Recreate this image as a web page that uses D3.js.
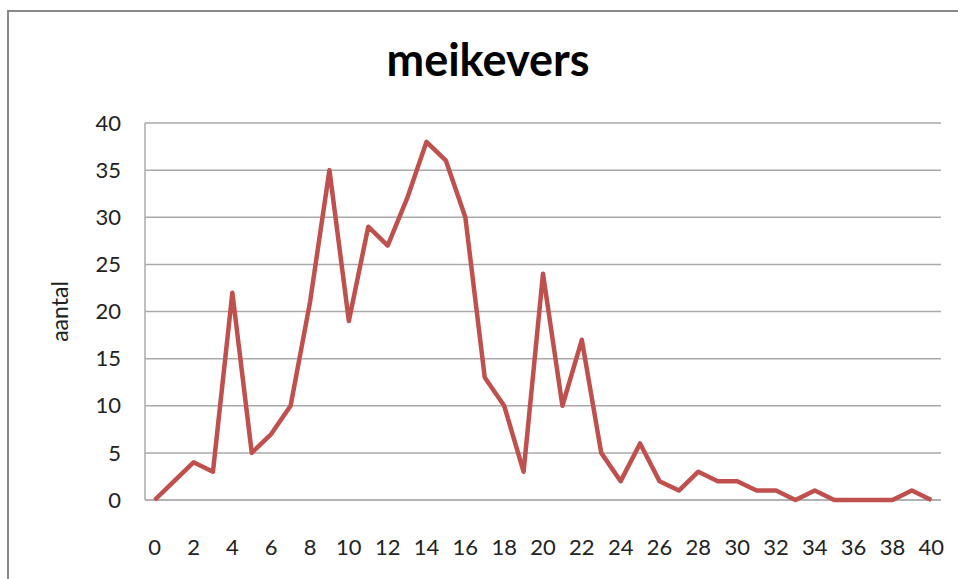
<!DOCTYPE html>
<html lang="nl">
<head>
	<meta charset="UTF-8">
	<title>meikevers</title>
	<style>
		html, body {
			margin: 0;
			background: #fff;
		}
		svg text {
			font-family: Lato, 'Open Sans', sans-serif;
			fill: #222;
		}
	</style>
	<script src="https://d3js.org/d3.v7.min.js"></script>
</head>
<body>
	<svg id="chart"></svg>
	<script>
		// dag / aantal meikevers
		const days = d3.range(0, 41);
		const counts = [0, 2, 4, 3, 22, 5, 7, 10, 21, 35,
			19, 29, 27, 32, 38, 36, 30, 13, 10, 3,
			24, 10, 17, 5, 2, 6, 2, 1, 3, 2,
			2, 1, 1, 0, 1, 0, 0, 0, 0, 1, 0];
		const yTicks = [0, 5, 10, 15, 20, 25, 30, 35, 40];
		const xTickLabels = days.filter(d => d % 2 === 0);

		const width = 958, height = 579;
		const margin = { top: 123, right: 17, bottom: 79, left: 145 };

		const svg = d3.select('#chart')
			.attr('width', width)
			.attr('height', height);

		// outer chart frame
		svg.append('rect')
			.attr('x', 8)
			.attr('y', 11)
			.attr('width', width + 20)
			.attr('height', height + 20)
			.attr('fill', '#fff')
			.attr('stroke', '#888')
			.attr('stroke-width', 2);

		const x = d3.scalePoint()
			.domain(days)
			.range([margin.left, width - margin.right])
			.padding(0.5);

		const y = d3.scaleLinear()
			.domain([0, 40])
			.range([height - margin.bottom, margin.top]);

		// gridlines
		svg.append('g')
			.selectAll('line')
			.data(yTicks)
			.join('line')
			.attr('x1', margin.left)
			.attr('x2', width - margin.right)
			.attr('y1', d => y(d))
			.attr('y2', d => y(d))
			.attr('stroke', d => d === 0 ? '#999' : '#aaa')
			.attr('stroke-width', 1.5);

		// left axis line
		svg.append('line')
			.attr('x1', margin.left)
			.attr('x2', margin.left)
			.attr('y1', y(40))
			.attr('y2', y(0))
			.attr('stroke', '#aaa')
			.attr('stroke-width', 1.5);

		// y tick labels
		svg.append('g')
			.selectAll('text')
			.data(yTicks)
			.join('text')
			.attr('x', 121)
			.attr('y', d => y(d))
			.attr('dy', '0.35em')
			.attr('text-anchor', 'end')
			.attr('font-size', 22)
			.text(d => d);

		// x tick labels
		svg.append('g')
			.selectAll('text')
			.data(xTickLabels)
			.join('text')
			.attr('x', d => x(d))
			.attr('y', 547)
			.attr('dy', '0.35em')
			.attr('text-anchor', 'middle')
			.attr('font-size', 22)
			.text(d => d);

		// y axis title
		svg.append('text')
			.attr('transform', `translate(68, ${y(20)}) rotate(-90)`)
			.attr('text-anchor', 'middle')
			.attr('font-size', 23)
			.text('aantal');

		// title
		svg.append('text')
			.attr('x', 488)
			.attr('y', 76)
			.attr('text-anchor', 'middle')
			.attr('font-size', 45)
			.attr('font-weight', 'bold')
			.style('fill', '#000')
			.text('meikevers');

		// data line
		const line = d3.line()
			.x((d, i) => x(days[i]))
			.y(d => y(d));

		svg.append('path')
			.datum(counts)
			.attr('d', line)
			.attr('fill', 'none')
			.attr('stroke', '#C0504D')
			.attr('stroke-width', 4.5)
			.attr('stroke-linejoin', 'round');
	</script>
</body>
</html>
